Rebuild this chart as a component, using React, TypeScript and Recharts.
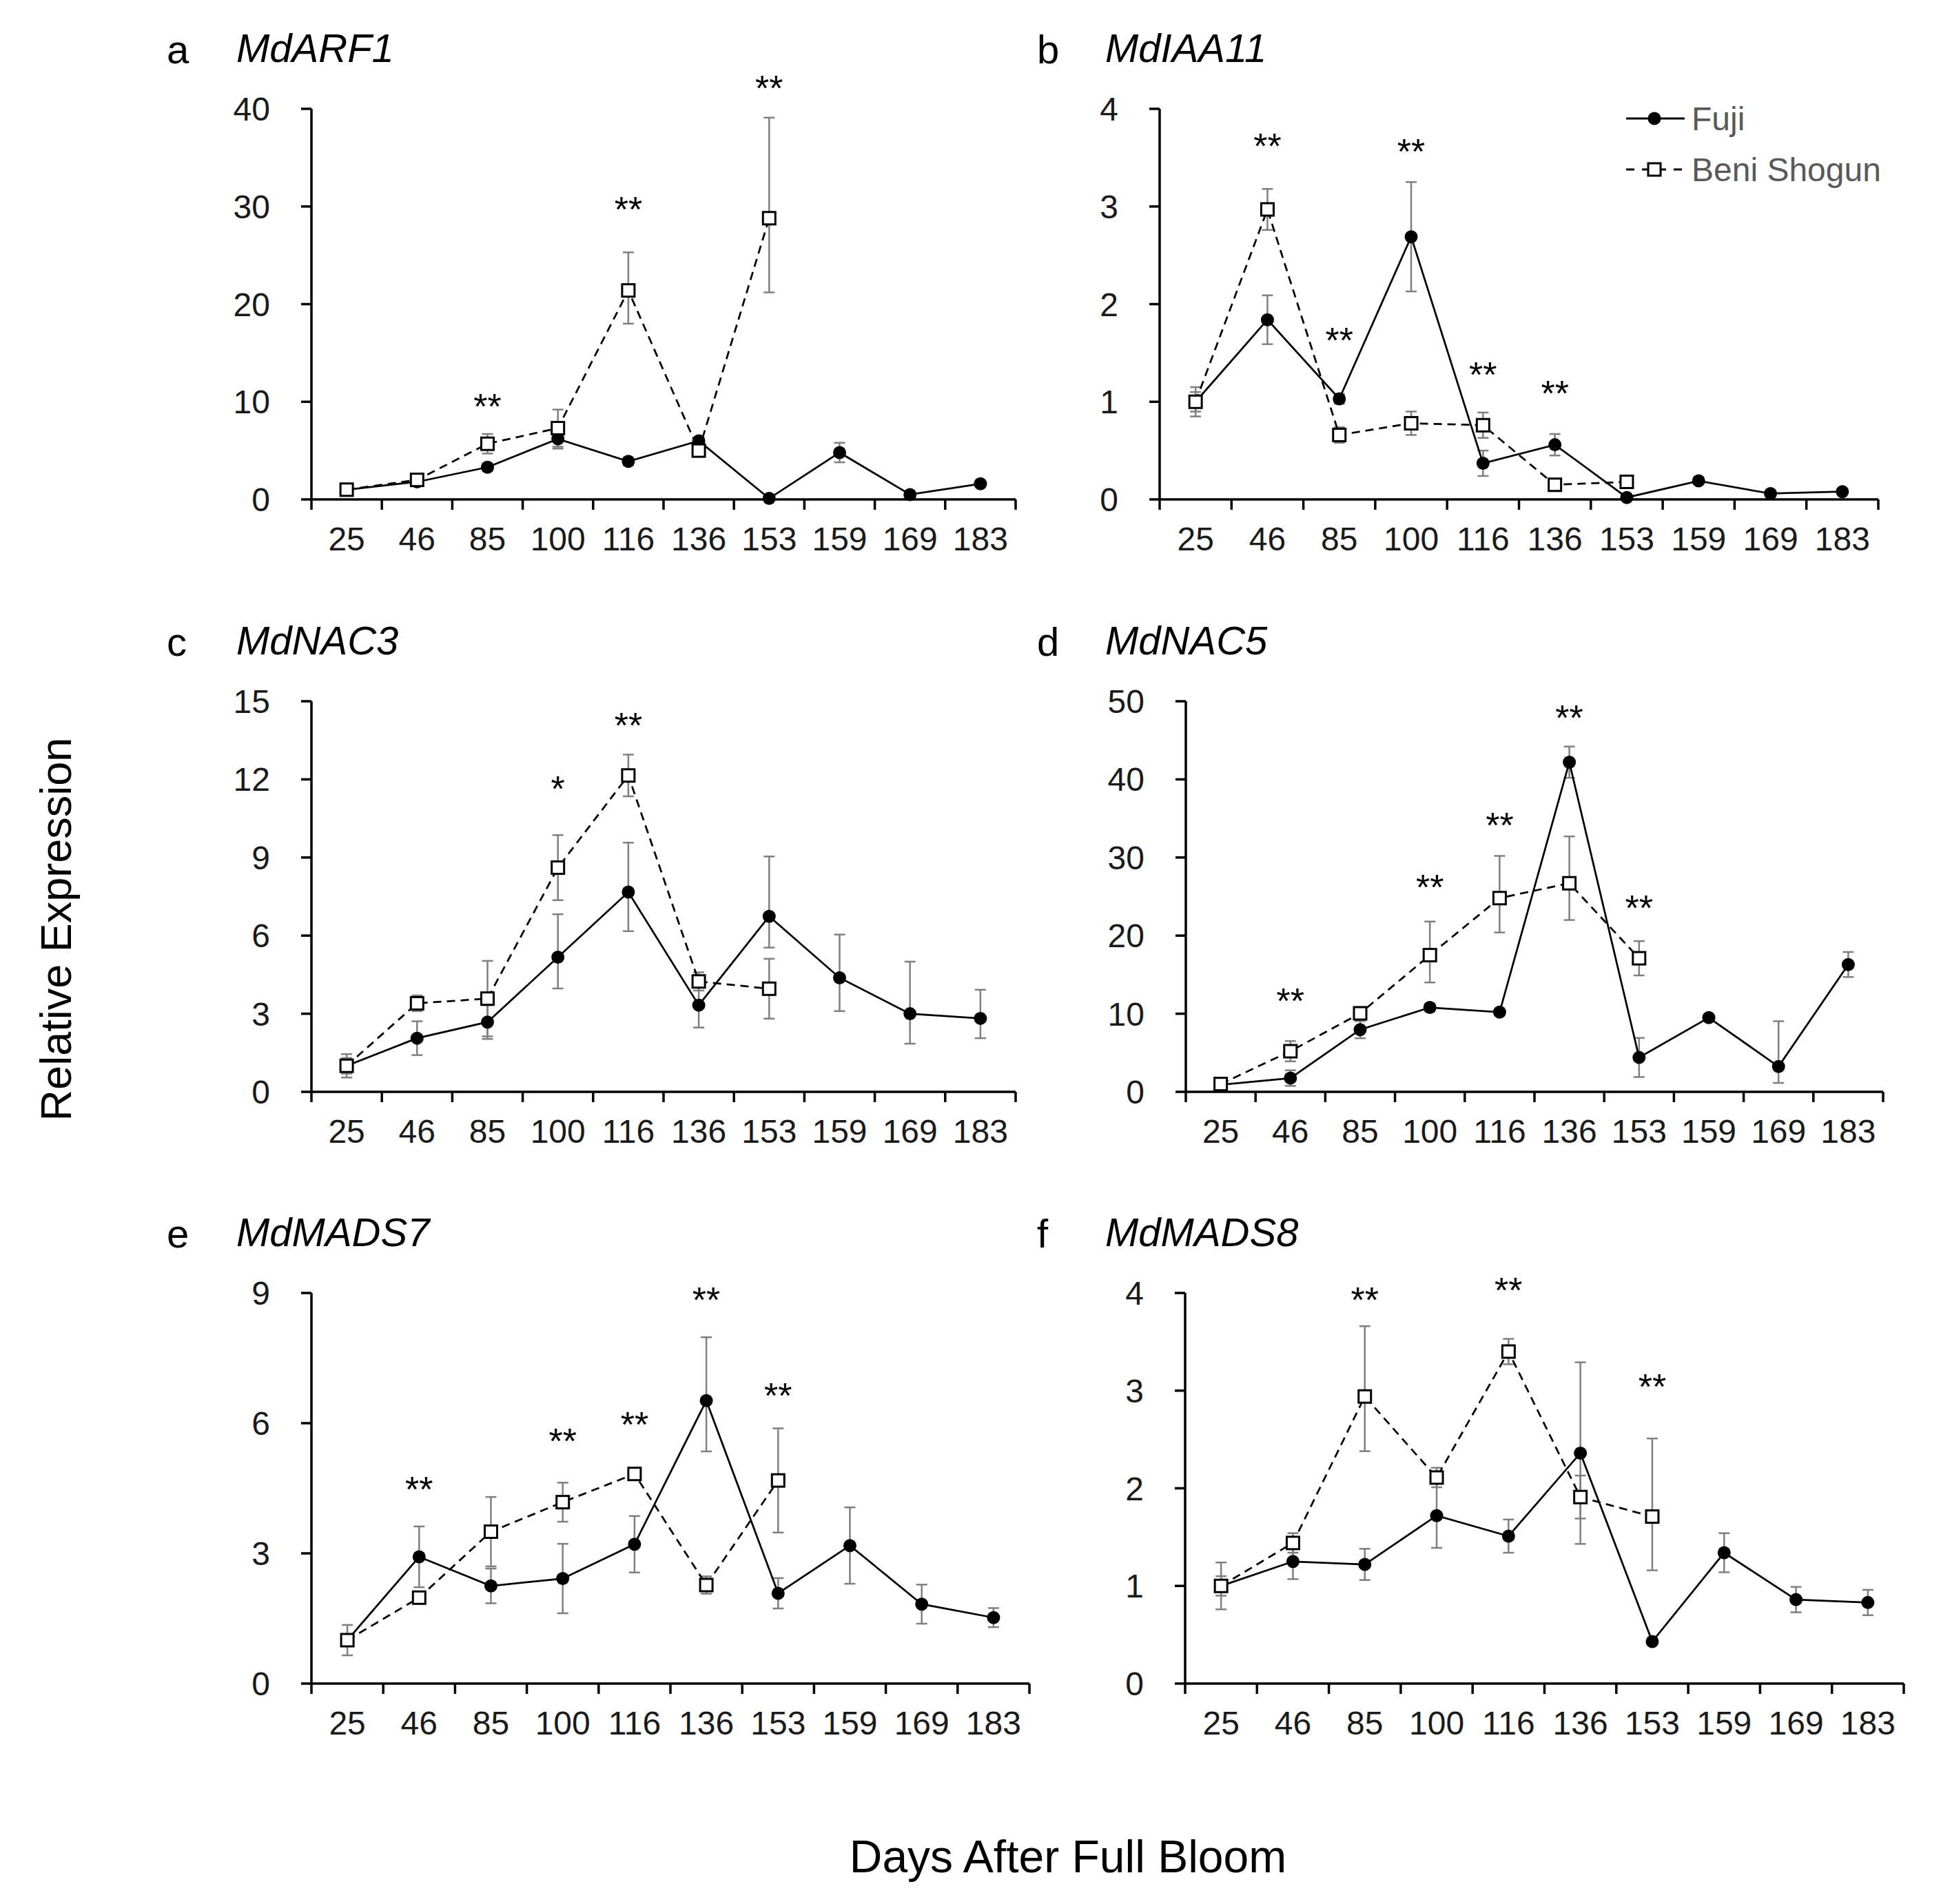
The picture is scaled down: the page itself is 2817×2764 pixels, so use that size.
import { LineChart, Line, XAxis, YAxis, ErrorBar, ReferenceDot } from 'recharts';

const FONT = '"Liberation Sans", Arial, sans-serif';
const TEXT = '#1a1a1a';

type Err = number | [number, number] | null;
type Sig = { day: string; mark: string; at: number };

// sampling days (x categories)
const days = ['25', '46', '85', '100', '116', '136', '153', '159', '169', '183'];

// a  MdARF1
const arf1Fuji = [1.0, 1.8, 3.3, 6.2, 3.9, 6.0, 0.1, 4.8, 0.5, 1.6];
const arf1FujiErr: Err[] = [0.1, 0.3, 0.4, 1.0, 0.4, 0.3, 0.05, 1.0, 0.1, 0.2];
const arf1Beni = [1.0, 2.0, 5.7, 7.3, 21.4, 5.0, 28.8];
const arf1BeniErr: Err[] = [0.2, 0.3, 1.0, 1.9, [3.4, 3.9], 0.5, [7.6, 10.3]];
const arf1Sig: Sig[] = [
  { day: '85', mark: '**', at: 10.2 },
  { day: '116', mark: '**', at: 30.4 },
  { day: '153', mark: '**', at: 42.8 },
];

// b  MdIAA11
const iaa11Fuji = [1.0, 1.84, 1.03, 2.69, 0.37, 0.56, 0.02, 0.19, 0.06, 0.08];
const iaa11FujiErr: Err[] = [0.1, 0.25, 0.05, 0.56, 0.13, 0.11, 0.02, 0.03, 0.02, 0.02];
const iaa11Beni = [1.0, 2.97, 0.66, 0.78, 0.76, 0.15, 0.18];
const iaa11BeniErr: Err[] = [0.15, 0.21, 0.08, 0.12, 0.13, 0.03, 0.03];
const iaa11Sig: Sig[] = [
  { day: '46', mark: '**', at: 3.69 },
  { day: '85', mark: '**', at: 1.7 },
  { day: '100', mark: '**', at: 3.63 },
  { day: '116', mark: '**', at: 1.35 },
  { day: '136', mark: '**', at: 1.16 },
];

// c  MdNAC3
const nac3Fuji = [1.0, 2.06, 2.68, 5.17, 7.67, 3.33, 6.74, 4.38, 3.0, 2.82];
const nac3FujiErr: Err[] = [0.3, 0.65, 0.65, [1.2, 1.65], [1.5, 1.9], 0.86, [1.2, 2.3], [1.28, 1.66], [1.15, 2.0], [0.76, 1.1]];
const nac3Beni = [1.0, 3.4, 3.58, 8.61, 12.15, 4.24, 3.96];
const nac3BeniErr: Err[] = [0.45, 0.3, 1.45, 1.25, 0.8, 0.35, 1.15];
const nac3Sig: Sig[] = [
  { day: '100', mark: '*', at: 11.9 },
  { day: '116', mark: '**', at: 14.35 },
];

// d  MdNAC5
const nac5Fuji = [0.9, 1.76, 7.96, 10.8, 10.2, 42.2, 4.4, 9.5, 3.24, 16.3];
const nac5FujiErr: Err[] = [0.2, 1.0, 1.1, 0.5, 0.4, 2.0, 2.5, 0.4, [2.1, 5.8], 1.6];
const nac5Beni = [1.0, 5.2, 10.05, 17.5, 24.8, 26.7, 17.1];
const nac5BeniErr: Err[] = [0.3, 1.3, 0.8, [3.5, 4.3], [4.4, 5.4], [4.7, 6.0], 2.2];
const nac5Sig: Sig[] = [
  { day: '46', mark: '**', at: 12.5 },
  { day: '100', mark: '**', at: 27.1 },
  { day: '116', mark: '**', at: 35.0 },
  { day: '136', mark: '**', at: 48.75 },
  { day: '153', mark: '**', at: 24.4 },
];

// e  MdMADS7
const mads7Fuji = [1.0, 2.92, 2.25, 2.42, 3.21, 6.52, 2.08, 3.18, 1.83, 1.52];
const mads7FujiErr: Err[] = [0.1, 0.7, 0.4, 0.8, 0.65, [1.17, 1.46], 0.35, 0.88, 0.45, 0.22];
const mads7Beni = [1.0, 1.98, 3.5, 4.18, 4.83, 2.27, 4.68];
const mads7BeniErr: Err[] = [0.35, 0.08, 0.8, 0.45, 0.13, 0.2, 1.2];
const mads7Sig: Sig[] = [
  { day: '46', mark: '**', at: 4.63 },
  { day: '100', mark: '**', at: 5.75 },
  { day: '116', mark: '**', at: 6.13 },
  { day: '136', mark: '**', at: 9.0 },
  { day: '153', mark: '**', at: 6.79 },
];

// f  MdMADS8
const mads8Fuji = [1.0, 1.25, 1.22, 1.72, 1.51, 2.36, 0.43, 1.34, 0.86, 0.83];
const mads8FujiErr: Err[] = [0.24, 0.18, 0.16, 0.33, 0.17, 0.93, 0.03, 0.2, 0.13, 0.13];
const mads8Beni = [1.0, 1.44, 2.94, 2.11, 3.4, 1.91, 1.71];
const mads8BeniErr: Err[] = [0.1, 0.1, [0.56, 0.72], 0.1, 0.13, 0.22, [0.55, 0.8]];
const mads8Sig: Sig[] = [
  { day: '85', mark: '**', at: 4.0 },
  { day: '116', mark: '**', at: 4.1 },
  { day: '153', mark: '**', at: 3.11 },
];

const PLOT_H = 567;

const panels = [
  { letter: 'a', gene: 'MdARF1', fuji: arf1Fuji, fujiErr: arf1FujiErr, beni: arf1Beni, beniErr: arf1BeniErr, sig: arf1Sig, ticks: [0, 10, 20, 30, 40], x: 452, y: 158, w: 1022 },
  { letter: 'b', gene: 'MdIAA11', fuji: iaa11Fuji, fujiErr: iaa11FujiErr, beni: iaa11Beni, beniErr: iaa11BeniErr, sig: iaa11Sig, ticks: [0, 1, 2, 3, 4], x: 1683, y: 158, w: 1043 },
  { letter: 'c', gene: 'MdNAC3', fuji: nac3Fuji, fujiErr: nac3FujiErr, beni: nac3Beni, beniErr: nac3BeniErr, sig: nac3Sig, ticks: [0, 3, 6, 9, 12, 15], x: 452, y: 1018, w: 1022 },
  { letter: 'd', gene: 'MdNAC5', fuji: nac5Fuji, fujiErr: nac5FujiErr, beni: nac5Beni, beniErr: nac5BeniErr, sig: nac5Sig, ticks: [0, 10, 20, 30, 40, 50], x: 1721, y: 1018, w: 1012 },
  { letter: 'e', gene: 'MdMADS7', fuji: mads7Fuji, fujiErr: mads7FujiErr, beni: mads7Beni, beniErr: mads7BeniErr, sig: mads7Sig, ticks: [0, 3, 6, 9], x: 452, y: 1877, w: 1042 },
  { letter: 'f', gene: 'MdMADS8', fuji: mads8Fuji, fujiErr: mads8FujiErr, beni: mads8Beni, beniErr: mads8BeniErr, sig: mads8Sig, ticks: [0, 1, 2, 3, 4], x: 1720, y: 1877, w: 1043 },
];

const FujiDot = (p: any) => {
  if (p.cy == null || p.value == null) return <g key={`fd-${p.index}`} />;
  return <circle key={`fd-${p.index}`} cx={p.cx} cy={p.cy} r={9.5} fill="#000" />;
};

const BeniDot = (p: any) => {
  if (p.cy == null || p.value == null) return <g key={`bd-${p.index}`} />;
  return (
    <rect key={`bd-${p.index}`} x={p.cx - 9} y={p.cy - 9} width={18} height={18}
      fill="#fff" stroke="#000" strokeWidth={3} />
  );
};

// category ticks sit between points, like the Excel original
function makeDayTick(band: number) {
  return (p: any) => {
    const { x, y, payload, index, visibleTicksCount } = p;
    const axisY = y - 40;
    return (
      <g key={`t-${index}`}>
        <line x1={x - band / 2} x2={x - band / 2} y1={axisY} y2={axisY + 15} stroke="#000" strokeWidth={3.5} />
        {index === visibleTicksCount - 1 && (
          <line x1={x + band / 2} x2={x + band / 2} y1={axisY} y2={axisY + 15} stroke="#000" strokeWidth={3.5} />
        )}
        <text x={x} y={y} dy="0.71em" textAnchor="middle" fontSize={48} fill={TEXT} fontFamily={FONT}>
          {payload.value}
        </text>
      </g>
    );
  };
}

function Panel({ p }: { p: (typeof panels)[number] }) {
  const rows = days.map((d, i) => ({
    day: d,
    fuji: p.fuji[i],
    fujiErr: p.fujiErr[i],
    beni: i < p.beni.length ? p.beni[i] : null,
    beniErr: i < p.beniErr.length ? p.beniErr[i] : null,
  }));
  const band = p.w / days.length;
  const max = p.ticks[p.ticks.length - 1];

  return (
    <div style={{ position: 'absolute', left: p.x - 150, top: p.y - 100 }}>
      <LineChart
        width={150 + p.w + 40}
        height={100 + PLOT_H + 110}
        data={rows}
        margin={{ top: 100, right: 40, left: 30, bottom: 0 }}
      >
        <XAxis
          dataKey="day"
          type="category"
          interval={0}
          height={110}
          padding={{ left: band / 2, right: band / 2 }}
          tickLine={false}
          tickSize={0}
          tickMargin={40}
          axisLine={{ stroke: '#000', strokeWidth: 3.5 }}
          tick={makeDayTick(band)}
        />
        <YAxis
          type="number"
          domain={[0, max]}
          ticks={p.ticks}
          interval={0}
          width={120}
          tickSize={15}
          tickMargin={45}
          axisLine={{ stroke: '#000', strokeWidth: 3.5 }}
          tickLine={{ stroke: '#000', strokeWidth: 3.5 }}
          tick={{ fill: TEXT, fontSize: 48, fontFamily: FONT }}
        />
        <Line
          type="linear"
          dataKey="fuji"
          stroke="#000"
          strokeWidth={2.75}
          dot={FujiDot}
          activeDot={false}
          isAnimationActive={false}
        >
          <ErrorBar dataKey="fujiErr" width={8} strokeWidth={2.5} stroke="#7f7f7f" direction="y" />
        </Line>
        <Line
          type="linear"
          dataKey="beni"
          stroke="#000"
          strokeWidth={2.75}
          strokeDasharray="12 8"
          dot={BeniDot}
          activeDot={false}
          isAnimationActive={false}
        >
          <ErrorBar dataKey="beniErr" width={8} strokeWidth={2.5} stroke="#7f7f7f" direction="y" />
        </Line>
        {p.sig.map((s) => (
          <ReferenceDot
            key={`sig-${s.day}`}
            x={s.day}
            y={s.at}
            ifOverflow="visible"
            shape={(sp: any) => (
              <text x={sp.cx} y={sp.cy + 28} textAnchor="middle" fontSize={52} fill="#000" fontFamily={FONT}>
                {s.mark}
              </text>
            )}
          />
        ))}
      </LineChart>
    </div>
  );
}

export default function App() {
  return (
    <div
      style={{
        position: 'absolute',
        left: 0,
        top: 0,
        width: 2817,
        height: 2764,
        background: '#fff',
        fontFamily: FONT,
      }}
    >
      {panels.map((p) => (
        <Panel key={p.letter} p={p} />
      ))}
      <svg
        width={2817}
        height={2764}
        style={{ position: 'absolute', left: 0, top: 0, pointerEvents: 'none' }}
        fontFamily={FONT}
      >
        {panels.map((p) => {
          const lx = p.x < 1000 ? 242 : 1505;
          const tx = p.x < 1000 ? 343 : 1604;
          const by = p.y - 68;
          return (
            <g key={`title-${p.letter}`}>
              <text x={lx} y={by + 2} fontSize={58} fill="#000">{p.letter}</text>
              <text x={tx} y={by} fontSize={58} fontStyle="italic" fill="#000">{p.gene}</text>
            </g>
          );
        })}
        <text transform="translate(103,1349) rotate(-90)" textAnchor="middle" fontSize={63} fill="#000">
          Relative Expression
        </text>
        <text x={1550} y={2718} textAnchor="middle" fontSize={66} fill="#000">
          Days After Full Bloom
        </text>
        {/* legend */}
        <line x1={2360} x2={2445} y1={172} y2={172} stroke="#000" strokeWidth={3} />
        <circle cx={2401} cy={172} r={9.5} fill="#000" />
        <text x={2455} y={189} fontSize={48} fill="#595959">Fuji</text>
        <line x1={2360} x2={2445} y1={246} y2={246} stroke="#000" strokeWidth={3} strokeDasharray="12 11" />
        <rect x={2392} y={237} width={18} height={18} fill="#fff" stroke="#000" strokeWidth={3} />
        <text x={2455} y={263} fontSize={48} fill="#595959">Beni Shogun</text>
      </svg>
    </div>
  );
}
